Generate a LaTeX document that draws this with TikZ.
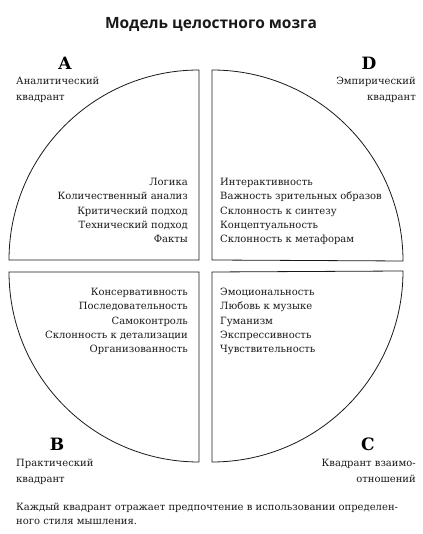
\documentclass[tikz,border=0pt]{standalone}
\usepackage{fontspec}
\setmainfont{DejaVu Serif}
\newfontfamily\titlefont{Open Sans}
\begin{document}
\begin{tikzpicture}[x=1pt,y=1pt,
  quad/.style={draw=black!90,line width=0.8pt},
  txt/.style={inner sep=0pt,font=\fontsize{10}{12}\selectfont,text=black!90},
  letter/.style={inner sep=0pt,font=\fontsize{17}{20}\selectfont\bfseries,text=black}]
\useasboundingbox (0,0) rectangle (422,534);
% title
\node[inner sep=0pt,anchor=base,font=\titlefont\fontsize{15.5}{18}\selectfont\bfseries,text=black!90] (title) at (211,505) {Модель целостного мозга};
% quadrants
\draw[quad] (199,274) -- (199,464) arc[start angle=90,end angle=180,radius=190] -- cycle;
\draw[quad] (212,274) -- (212,464) arc[start angle=90,end angle=0,radius=191] -- cycle;
\draw[quad] (199,262) -- (199,72) arc[start angle=270,end angle=180,radius=190] -- cycle;
\draw[quad] (212,262) -- (212,72) arc[start angle=270,end angle=360,radius=191] -- cycle;
% letters
\node[letter,anchor=base] (lA) at (65,464) {A};
\node[letter,anchor=base] (lD) at (369,464) {D};
\node[letter,anchor=base] (lB) at (57,83) {B};
\node[letter,anchor=base] (lC) at (368,83) {C};
% quadrant names
\node[txt,anchor=mid west] (nA1) at (16,452) {Аналитический};
\node[txt,anchor=mid west] (nA2) at (16,436.5) {квадрант};
\node[txt,anchor=mid east] (nD1) at (416,452) {Эмпирический};
\node[txt,anchor=mid east] (nD2) at (416,436.5) {квадрант};
\node[txt,anchor=mid west] (nB1) at (16,70) {Практический};
\node[txt,anchor=mid west] (nB2) at (16,54.5) {квадрант};
\node[txt,anchor=mid east] (nC1) at (416,70) {Квадрант взаимо-};
\node[txt,anchor=mid east] (nC2) at (416,54.5) {отношений};
% top-left list
\foreach \t [count=\i] in {Логика,Количественный анализ,Критический подход,Технический подход,Факты}
  \node[txt,anchor=mid east] (tl\i) at (188,{351-14.3*(\i-1)}) {\t};
\foreach \t [count=\i] in {Интерактивность,Важность зрительных образов,Склонность к синтезу,Концептуальность,Склонность к метафорам}
  \node[txt,anchor=mid west] (tr\i) at (220,{351-14.3*(\i-1)}) {\t};
\foreach \t [count=\i] in {Консервативность,Последовательность,Самоконтроль,Склонность к детализации,Организованность}
  \node[txt,anchor=mid east] (bl\i) at (188,{241-14.3*(\i-1)}) {\t};
\foreach \t [count=\i] in {Эмоциональность,Любовь к музыке,Гуманизм,Экспрессивность,Чувствительность}
  \node[txt,anchor=mid west] (br\i) at (220,{241-14.3*(\i-1)}) {\t};
% caption
\node[txt,anchor=mid west] (cap1) at (16,26) {Каждый квадрант отражает предпочтение в использовании определен-};
\node[txt,anchor=mid west] (cap2) at (16,12) {ного стиля мышления.};
\end{tikzpicture}
\end{document}
